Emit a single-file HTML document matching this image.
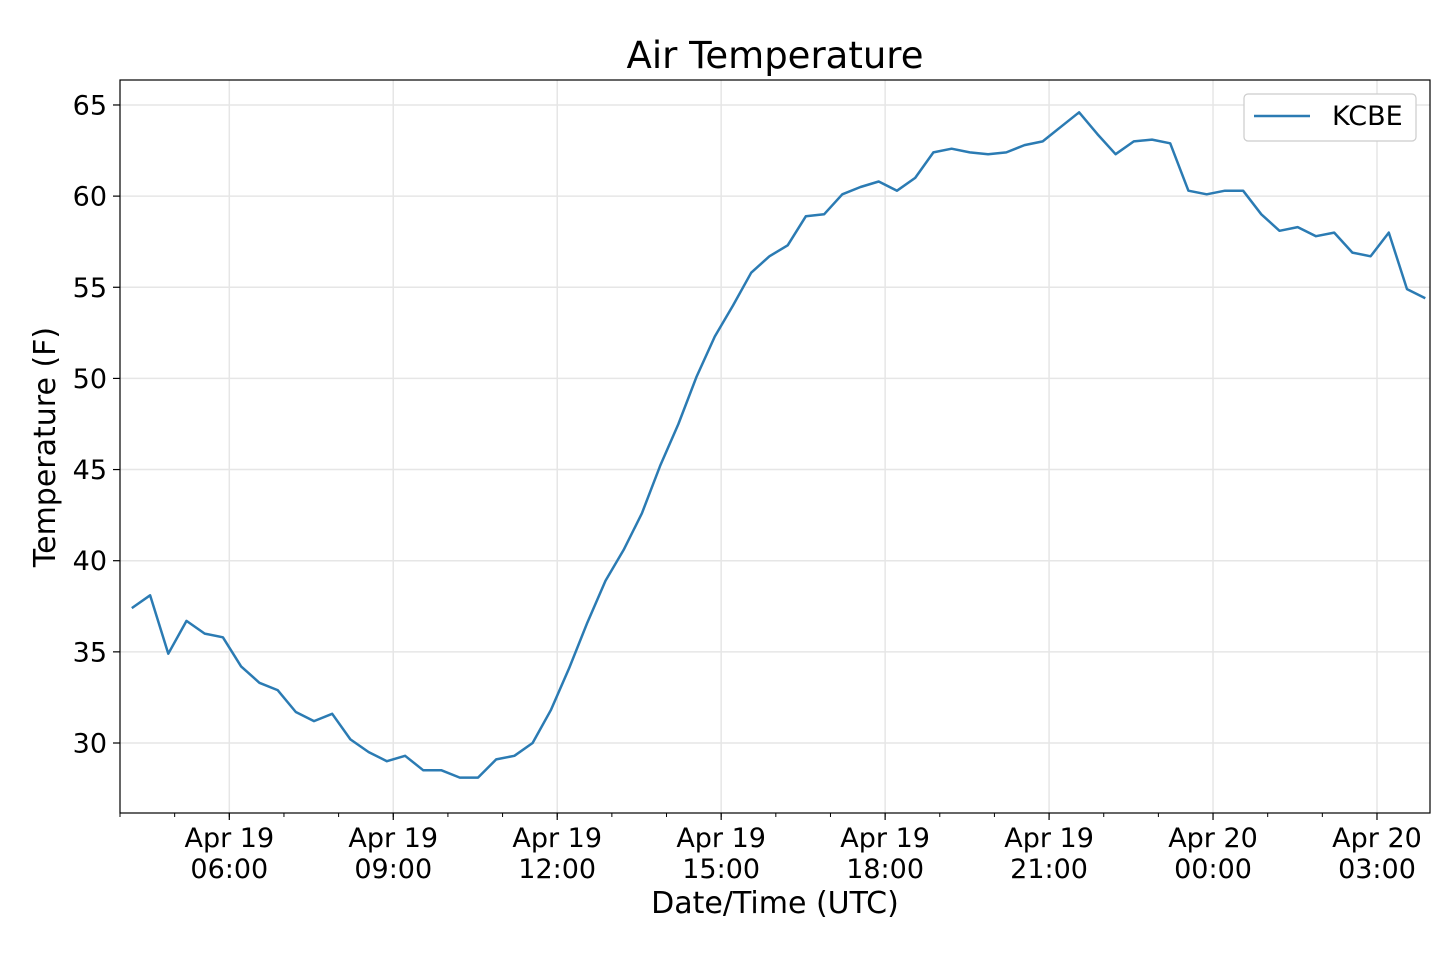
<!DOCTYPE html>
<html><head><meta charset="utf-8"><style>
html,body{margin:0;padding:0;background:#fff;}
svg{display:block;font-family:"DejaVu Sans","Liberation Sans",sans-serif;}
</style></head><body>
<svg id="chart" width="1440" height="960" viewBox="0 0 1440 960">
<rect width="1440" height="960" fill="#fff"/>
<text x="775" y="68" text-anchor="middle" font-size="37" fill="#000">Air Temperature</text>
<g id="grid"></g>
<g id="axes"></g>
<g id="series"></g>
<rect x="120" y="80" width="1310" height="733" fill="none" stroke="#000" stroke-width="1.2"/>
<g>
<rect x="1244" y="94" width="172" height="47" rx="4" fill="#fff" stroke="#ccc" stroke-width="1.2"/>
<line x1="1254" y1="116" x2="1310" y2="116" stroke="#2b7bb3" stroke-width="2.5"/>
<text x="1332" y="125" font-size="27">KCBE</text>
</g>
<text x="775" y="913" text-anchor="middle" font-size="30">Date/Time (UTC)</text>
<text transform="translate(55,447) rotate(-90)" text-anchor="middle" font-size="30">Temperature (F)</text>
</svg>
<script>
// hours relative to Apr 19 06:00 UTC; first obs 04:13, every 20 minutes
const startHour = -1.7833;
const stepHours = 1/3;
const temps = [37.4,38.1,34.9,36.7,36.0,35.8,34.2,33.3,32.9,31.7,31.2,31.6,30.2,29.5,29.0,29.3,28.5,28.5,28.1,28.1,29.1,29.3,30.0,31.8,34.1,36.6,38.9,40.6,42.6,45.2,47.5,50.1,52.3,54.0,55.8,56.7,57.3,58.9,59.0,60.1,60.5,60.8,60.3,61.0,62.4,62.6,62.4,62.3,62.4,62.8,63.0,63.8,64.6,63.4,62.3,63.0,63.1,62.9,60.3,60.1,60.3,60.3,59.0,58.1,58.3,57.8,58.0,56.9,56.7,58.0,54.9,54.4];
const yTicks = [30,35,40,45,50,55,60,65];
const xTickHours = [0,3,6,9,12,15,18,21];
const xTickDates = ["Apr 19","Apr 19","Apr 19","Apr 19","Apr 19","Apr 19","Apr 20","Apr 20"];
const xTickTimes = ["06:00","09:00","12:00","15:00","18:00","21:00","00:00","03:00"];

const L=120,R=1430,T=80,B=813;
const xMin=-2,xMax=21.97,yMin=26.16,yMax=66.37;
const xs=h=>L+(h-xMin)/(xMax-xMin)*(R-L);
const ys=v=>B-(v-yMin)/(yMax-yMin)*(B-T);
const NS="http://www.w3.org/2000/svg";
function mk(tag,attrs,parent){const e=document.createElementNS(NS,tag);for(const k in attrs)e.setAttribute(k,attrs[k]);parent.appendChild(e);return e;}
const grid=document.getElementById('grid'),axes=document.getElementById('axes'),series=document.getElementById('series');

yTicks.forEach(v=>{
  const y=ys(v);
  const g=mk('line',{x1:L,x2:R,y1:y,y2:y,stroke:'#e6e6e6','stroke-width':1.5},grid);
  
  
  const t=mk('line',{x1:L-7,x2:L,y1:y,y2:y,stroke:'#000','stroke-width':1.2},axes);
  
  
  const lb=mk('text',{x:L-13,y:y+9.5,'text-anchor':'end','font-size':27},axes);
  lb.textContent=v;
  
  
});
for(let h=-2;h<=xMax;h++){
  const x=xs(h);
  const t=mk('line',{x1:x,x2:x,y1:B,y2:B+4,stroke:'#000','stroke-width':1},axes);
  
  
}
xTickHours.forEach((h,i)=>{
  const x=xs(h);
  const g=mk('line',{x1:x,x2:x,y1:T,y2:B,stroke:'#e6e6e6','stroke-width':1.5},grid);
  
  
  const t=mk('line',{x1:x,x2:x,y1:B,y2:B+7,stroke:'#000','stroke-width':1.2},axes);
  
  
  const a=mk('text',{x:x,y:847,'text-anchor':'middle','font-size':27},axes);
  a.textContent=xTickDates[i];
  
  
  const b=mk('text',{x:x,y:878,'text-anchor':'middle','font-size':27},axes);
  b.textContent=xTickTimes[i];
  
  
});
const pts=temps.map((v,i)=>xs(startHour+i*stepHours).toFixed(1)+','+ys(v).toFixed(1)).join(' ');
const line=mk('polyline',{points:pts,fill:'none',stroke:'#2b7bb3','stroke-width':2.5,'stroke-linejoin':'round'},series);


</script>
</body></html>
